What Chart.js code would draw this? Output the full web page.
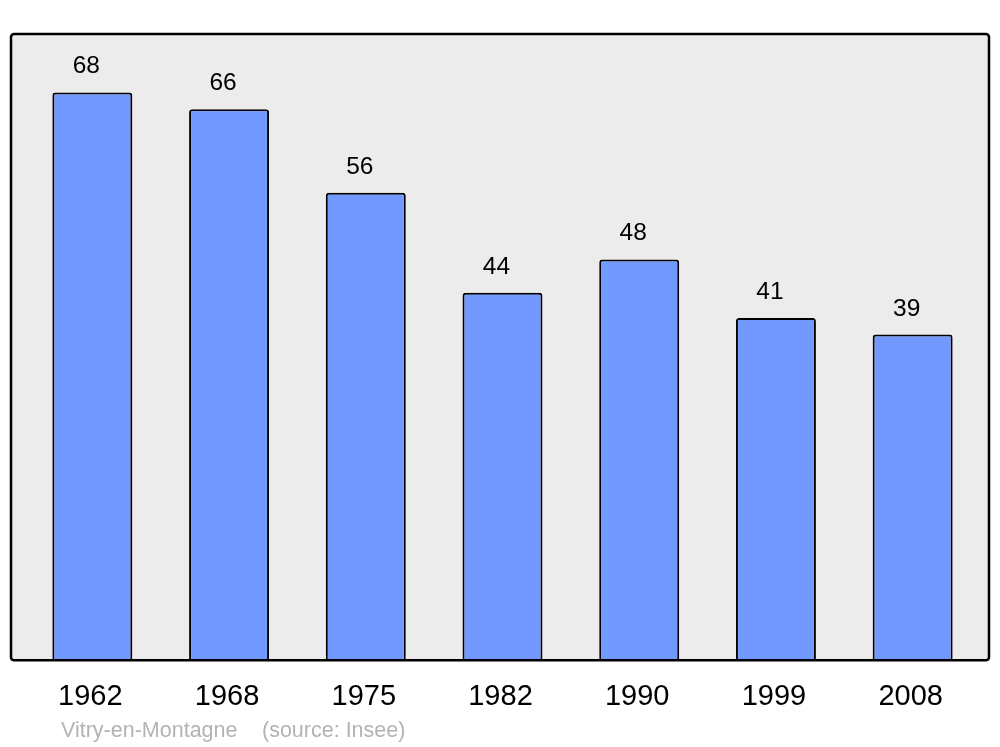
<!DOCTYPE html>
<html><head><meta charset="utf-8">
<script src="https://cdn.jsdelivr.net/npm/chart.js@4"></script>
<style>html,body{margin:0;padding:0;background:#fff}#wrap{width:1000px;height:747px}</style>
</head><body><div id="wrap"><canvas id="c" width="1000" height="747"></canvas></div>
<script>
const years = ['1962','1968','1975','1982','1990','1999','2008'];
const population = [68, 66, 56, 44, 48, 41, 39];
const placeName = 'Vitry-en-Montagne';
const sourceText = '(source: Insee)';

const framePlugin = {
  id: 'frame',
  beforeDraw(chart) {
    const {ctx, chartArea: a} = chart;
    const x0 = a.left - 13, x1 = a.right + 8, y0 = a.top, y1 = a.bottom;
    ctx.save();
    ctx.beginPath();
    ctx.roundRect(x0, y0, x1 - x0, y1 - y0, 3);
    ctx.fillStyle = '#ececec';
    ctx.fill();
    ctx.restore();
  },
  afterDatasetsDraw(chart) {
    const {ctx, chartArea: a} = chart;
    const x0 = a.left - 13, x1 = a.right + 8, y0 = a.top, y1 = a.bottom;
    ctx.save();
    ctx.beginPath();
    ctx.roundRect(x0, y0, x1 - x0, y1 - y0, 3);
    ctx.lineWidth = 2.5;
    ctx.strokeStyle = '#000';
    ctx.stroke();
    // value labels
    const meta = chart.getDatasetMeta(0);
    ctx.fillStyle = '#000';
    ctx.font = '24.5px "Liberation Sans", Arial, sans-serif';
    ctx.textAlign = 'center';
    ctx.textBaseline = 'alphabetic';
    meta.data.forEach((bar, i) => {
      ctx.fillText(String(population[i]), bar.x - 6, bar.y - 19);
    });
    // footer
    ctx.fillStyle = '#b3b3b3';
    ctx.font = '21.5px "Liberation Sans", Arial, sans-serif';
    ctx.textAlign = 'left';
    ctx.fillText(placeName, 61, 737);
    ctx.fillText(sourceText, 262, 737);
    ctx.restore();
  }
};

new Chart(document.getElementById('c'), {
  type: 'bar',
  data: {
    labels: years,
    datasets: [{
      data: population,
      backgroundColor: '#7299ff',
      borderColor: '#000',
      borderWidth: 2,
      borderRadius: {topLeft: 3, topRight: 3, bottomLeft: 0, bottomRight: 0},
      borderSkipped: 'bottom',
      barPercentage: 0.585,
      categoryPercentage: 1.0
    }]
  },
  options: {
    responsive: false,
    animation: false,
    devicePixelRatio: 1,
    layout: {padding: {left: 24, right: 19, top: 34, bottom: 14}},
    plugins: {legend: {display: false}, tooltip: {enabled: false}, title: {display: false}},
    scales: {
      x: {
        grid: {display: false, drawTicks: false, tickLength: 0},
        border: {display: false},
        ticks: {color: '#000', font: {size: 29, family: '"Liberation Sans", Arial, sans-serif'}, padding: 19, maxRotation: 0, labelOffset: -2}
      },
      y: {
        display: false,
        min: 0,
        max: 75
      }
    }
  },
  plugins: [framePlugin]
});
</script>
</body></html>
